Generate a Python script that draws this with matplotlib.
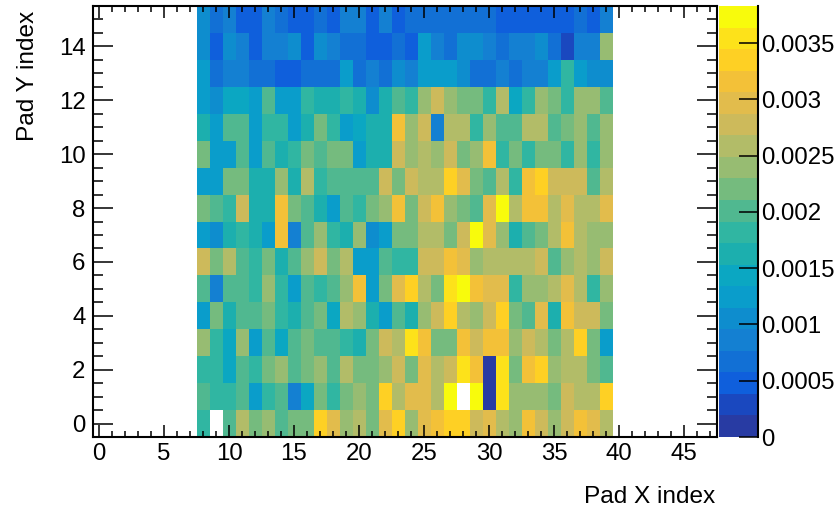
import numpy as np
import matplotlib
matplotlib.use("Agg")
import matplotlib.pyplot as plt
from matplotlib.colors import BoundaryNorm, ListedColormap
from matplotlib.ticker import MultipleLocator

plt.rcParams['font.family'] = ['Liberation Sans', 'DejaVu Sans']

nan = float('nan')

# contenido por pad, en unidades de 1e-4 (fila = pad Y, columna = pad X 8..39)
pad_x_edges = np.arange(7.5, 40.5)
pad_y_edges = np.arange(-0.5, 16.5)

row_00 = [18, nan, 20, 26, 22, 24, 20, 22, 22, 33, 30, 24, 26, 22, 30, 33, 24, 30, 32, 33, 33, 28, 30, 26, 24, 32, 28, 24, 28, 32, 30, 26]
row_01 = [20, 18, 18, 20, 12, 18, 20, 9, 14, 22, 18, 22, 24, 22, 33, 26, 30, 30, 26, 37, nan, 37, 1, 35, 24, 24, 24, 22, 28, 26, 26, 33]
row_02 = [18, 18, 14, 20, 18, 22, 24, 20, 22, 24, 20, 26, 22, 22, 24, 28, 22, 30, 26, 28, 35, 32, 1, 35, 22, 32, 33, 24, 26, 26, 22, 20]
row_03 = [24, 18, 14, 24, 12, 20, 14, 20, 22, 20, 20, 18, 16, 22, 28, 26, 35, 32, 22, 22, 32, 28, 32, 32, 24, 28, 26, 22, 26, 33, 22, 12]
row_04 = [12, 22, 16, 20, 20, 22, 18, 16, 20, 22, 14, 26, 24, 16, 12, 20, 16, 24, 28, 33, 26, 24, 28, 33, 22, 20, 30, 16, 32, 28, 28, 22]
row_05 = [20, 9, 20, 20, 18, 24, 18, 12, 20, 18, 20, 24, 32, 12, 22, 30, 33, 26, 22, 35, 37, 32, 30, 30, 18, 24, 24, 26, 30, 26, 18, 24]
row_06 = [28, 22, 26, 20, 18, 22, 16, 20, 24, 28, 22, 26, 12, 12, 20, 18, 18, 28, 28, 32, 30, 24, 26, 26, 26, 26, 28, 20, 24, 26, 24, 28]
row_07 = [12, 11, 16, 18, 16, 12, 32, 9, 20, 24, 18, 16, 24, 11, 12, 22, 22, 26, 26, 22, 28, 37, 30, 24, 16, 20, 22, 26, 32, 26, 24, 24]
row_08 = [22, 20, 18, 28, 16, 16, 32, 22, 20, 16, 12, 20, 18, 22, 24, 32, 22, 28, 32, 24, 22, 20, 30, 37, 26, 32, 32, 26, 30, 26, 26, 30]
row_09 = [12, 12, 22, 22, 16, 16, 24, 16, 26, 18, 20, 20, 20, 20, 28, 22, 28, 26, 26, 33, 30, 22, 20, 26, 18, 32, 33, 28, 28, 28, 20, 26]
row_10 = [22, 12, 12, 20, 12, 20, 16, 18, 22, 20, 22, 22, 12, 16, 16, 28, 24, 26, 24, 28, 22, 24, 32, 18, 22, 18, 22, 22, 18, 24, 18, 24]
row_11 = [16, 12, 20, 20, 12, 18, 18, 12, 16, 22, 18, 12, 14, 16, 16, 32, 24, 28, 9, 26, 26, 18, 24, 20, 20, 26, 26, 20, 22, 24, 20, 24]
row_12 = [12, 11, 14, 14, 12, 20, 12, 12, 18, 16, 16, 18, 16, 11, 16, 20, 18, 24, 28, 24, 22, 22, 18, 26, 14, 18, 24, 22, 18, 24, 24, 20]
row_13 = [12, 7, 9, 9, 7, 7, 5, 5, 7, 7, 7, 12, 7, 9, 7, 11, 9, 12, 12, 12, 11, 7, 7, 9, 7, 9, 9, 12, 18, 12, 11, 11]
row_14 = [11, 5, 11, 9, 5, 9, 9, 11, 5, 11, 9, 7, 7, 5, 5, 7, 5, 12, 9, 7, 11, 11, 9, 7, 9, 9, 11, 7, 3, 9, 9, 24]
row_15 = [11, 7, 9, 5, 5, 9, 7, 5, 5, 7, 5, 9, 9, 5, 9, 5, 7, 7, 7, 7, 7, 7, 7, 5, 5, 5, 5, 5, 5, 7, 5, 9]

z_ticks = [0, 0.0005, 0.001, 0.0015, 0.002, 0.0025, 0.003, 0.0035]
z_labels = ["0", "0.0005", "0.001", "0.0015", "0.002", "0.0025", "0.003", "0.0035"]
z_max = 0.00383

palette = ["#283BA3", "#1A48BF", "#0F5FDC", "#1270D5", "#1480D2", "#0E8DCE", "#0A9DCB",
           "#0BA7C2", "#1CAFAE", "#30B6A2", "#50B890", "#75BB7E", "#97BC72", "#B2BC68",
           "#CDBA5B", "#E2BC4C", "#F3C138", "#FED024", "#FDE21A", "#F8FB0C"]

W, H = 840, 512
z = np.array([row_00, row_01, row_02, row_03, row_04, row_05, row_06, row_07,
              row_08, row_09, row_10, row_11, row_12, row_13, row_14, row_15]) * 1e-4
z = np.ma.masked_invalid(z)

cmap = ListedColormap(palette)
norm = BoundaryNorm(np.linspace(0, z_max, 21), 20)

fig = plt.figure(figsize=(W / 100, H / 100), dpi=100)
ax = fig.add_axes([92.5 / W, 1 - 437 / H, 624 / W, 431 / H])
mesh = ax.pcolormesh(pad_x_edges, pad_y_edges, z, cmap=cmap, norm=norm, antialiased=False)

ax.set_xlim(-0.5, 47.5)
ax.set_ylim(-0.5, 15.5)
ax.xaxis.set_major_locator(MultipleLocator(5))
ax.xaxis.set_minor_locator(MultipleLocator(1))
ax.yaxis.set_major_locator(MultipleLocator(2))
ax.yaxis.set_minor_locator(MultipleLocator(0.5))
ax.tick_params(axis='x', which='major', direction='in', top=True, length=8.6, width=1.1, labelsize=17.3, pad=4.5)
ax.tick_params(axis='x', which='minor', direction='in', top=True, length=4.3, width=1.1)
ax.tick_params(axis='y', which='major', direction='in', right=True, length=14.4, width=1.1, labelsize=17.3, pad=5)
ax.tick_params(axis='y', which='minor', direction='in', right=True, length=7.2, width=1.1)
for s in ax.spines.values():
    s.set_linewidth(1.5)

fig.text(715 / W, 1 - 497 / H, "Pad X index", ha='right', va='center', fontsize=17.6)
fig.text(28 / W, 1 - 76 / H, "Pad Y index", ha='center', va='center', rotation=90, fontsize=17.6)

# barra de color: solo linea a la derecha, ticks hacia adentro
cax = fig.add_axes([719 / W, 1 - 437 / H, 39 / W, 431 / H])
cb = fig.colorbar(mesh, cax=cax, spacing='proportional', ticks=z_ticks)
cb.set_ticklabels(z_labels)
cb.outline.set_visible(False)
cb.minorticks_off()
cax.spines['right'].set_visible(True)
cax.spines['right'].set_linewidth(1.5)
cax.tick_params(axis='y', which='major', direction='in', length=13.7, width=1.1, labelsize=17.3, pad=2.5)

fig.savefig("out.png", dpi=100)
